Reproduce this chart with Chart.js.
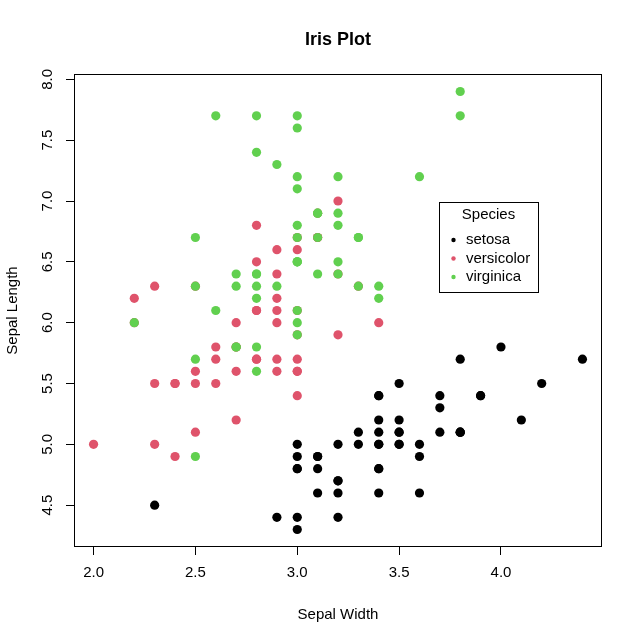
<!DOCTYPE html>
<html>
<head>
<meta charset="utf-8">
<script src="https://cdn.jsdelivr.net/npm/chart.js@4"></script>
<style>
  html, body { margin: 0; padding: 0; background: #fff; }
  #wrap { width: 640px; height: 640px; }
</style>
</head>
<body>
<div id="wrap"><canvas id="iris"></canvas></div>
<script>
// iris data: sepal width (x) and sepal length (y) per species
const setosaWidth = [3.5,3.0,3.2,3.1,3.6,3.9,3.4,3.4,2.9,3.1,3.7,3.4,3.0,3.0,4.0,4.4,3.9,3.5,3.8,3.8,3.4,3.7,3.6,3.3,3.4,3.0,3.4,3.5,3.4,3.2,3.1,3.4,4.1,4.2,3.1,3.2,3.5,3.6,3.0,3.4,3.5,2.3,3.2,3.5,3.8,3.0,3.8,3.2,3.7,3.3];
const setosaLength = [5.1,4.9,4.7,4.6,5.0,5.4,4.6,5.0,4.4,4.9,5.4,4.8,4.8,4.3,5.8,5.7,5.4,5.1,5.7,5.1,5.4,5.1,4.6,5.1,4.8,5.0,5.0,5.2,5.2,4.7,4.8,5.4,5.2,5.5,4.9,5.0,5.5,4.9,4.4,5.1,5.0,4.5,4.4,5.0,5.1,4.8,5.1,4.6,5.3,5.0];
const versicolorWidth = [3.2,3.2,3.1,2.3,2.8,2.8,3.3,2.4,2.9,2.7,2.0,3.0,2.2,2.9,2.9,3.1,3.0,2.7,2.2,2.5,3.2,2.8,2.5,2.8,2.9,3.0,2.8,3.0,2.9,2.6,2.4,2.4,2.7,2.7,3.0,3.4,3.1,2.3,3.0,2.5,2.6,3.0,2.6,2.3,2.7,3.0,2.9,2.9,2.5,2.8];
const versicolorLength = [7.0,6.4,6.9,5.5,6.5,5.7,6.3,4.9,6.6,5.2,5.0,5.9,6.0,6.1,5.6,6.7,5.6,5.8,6.2,5.6,5.9,6.1,6.3,6.1,6.4,6.6,6.8,6.7,6.0,5.7,5.5,5.5,5.8,6.0,5.4,6.0,6.7,6.3,5.6,5.5,5.5,6.1,5.8,5.0,5.6,5.7,5.7,6.2,5.1,5.7];
const virginicaWidth = [3.3,2.7,3.0,2.9,3.0,3.0,2.5,2.9,2.5,3.6,3.2,2.7,3.0,2.5,2.8,3.2,3.0,3.8,2.6,2.2,3.2,2.8,2.8,2.7,3.3,3.2,2.8,3.0,2.8,3.0,2.8,3.8,2.8,2.8,2.6,3.0,3.4,3.1,3.0,3.1,3.1,3.1,2.7,3.2,3.3,3.0,2.5,3.0,3.4,3.0];
const virginicaLength = [6.3,5.8,7.1,6.3,6.5,7.6,4.9,7.3,6.7,7.2,6.5,6.4,6.8,5.7,5.8,6.4,6.5,7.7,7.7,6.0,6.9,5.6,7.7,6.3,6.7,7.2,6.2,6.1,6.4,7.2,7.4,7.9,6.4,6.3,6.1,7.7,6.3,6.4,6.0,6.9,6.7,6.9,5.8,6.8,6.7,6.7,6.3,6.5,6.2,5.9];

const speciesNames = ['setosa', 'versicolor', 'virginica'];
const speciesColors = ['#000000', '#DF536B', '#61D04F'];
const xTicks = [2.0, 2.5, 3.0, 3.5, 4.0];
const yTicks = [4.5, 5.0, 5.5, 6.0, 6.5, 7.0, 7.5, 8.0];

const FONT = 'Arial, "Liberation Sans", sans-serif';

const toPoints = (xs, ys) => xs.map((x, i) => ({ x: x, y: ys[i] }));

// R style extras: title, rotated y labels, box and inset legend
const rStyle = {
    id: 'rStyle',
    afterDraw(chart) {
        const ctx = chart.ctx;
        const area = chart.chartArea;
        const yScale = chart.scales.y;
        ctx.save();

        // box round the plot
        ctx.strokeStyle = '#000';
        ctx.lineWidth = 1;
        ctx.strokeRect(area.left + 0.5, area.top + 0.5, area.right - area.left - 1, area.bottom - area.top - 1);

        // title
        ctx.fillStyle = '#000';
        ctx.font = 'bold 18px ' + FONT;
        ctx.textAlign = 'center';
        ctx.textBaseline = 'alphabetic';
        ctx.fillText('Iris Plot', (area.left + area.right) / 2, 45);

        // y tick labels, turned like R does
        ctx.font = '15px ' + FONT;
        yTicks.forEach(v => {
            const py = yScale.getPixelForValue(v);
            ctx.save();
            ctx.translate(52, py);
            ctx.rotate(-Math.PI / 2);
            ctx.textAlign = 'center';
            ctx.textBaseline = 'alphabetic';
            ctx.fillText(v.toFixed(1), 0, 0);
            ctx.restore();
        });

        // legend
        const lx = 439, ly = 202, lw = 99, lh = 90;
        ctx.fillStyle = '#fff';
        ctx.fillRect(lx, ly, lw, lh);
        ctx.strokeStyle = '#000';
        ctx.strokeRect(lx + 0.5, ly + 0.5, lw, lh);
        ctx.fillStyle = '#000';
        ctx.textAlign = 'center';
        ctx.textBaseline = 'middle';
        ctx.fillText('Species', lx + lw / 2, 215);
        ctx.textAlign = 'left';
        speciesNames.forEach((name, i) => {
            const ry = 240 + i * 18.5;
            ctx.fillStyle = speciesColors[i];
            ctx.beginPath();
            ctx.arc(453.5, ry, 2.2, 0, Math.PI * 2);
            ctx.fill();
            ctx.fillStyle = '#000';
            ctx.fillText(name, 466, ry);
        });

        ctx.restore();
    }
};

const datasets = [
    { label: 'setosa', data: toPoints(setosaWidth, setosaLength), order: 3 },
    { label: 'versicolor', data: toPoints(versicolorWidth, versicolorLength), order: 2 },
    { label: 'virginica', data: toPoints(virginicaWidth, virginicaLength), order: 1 }
].map((d, i) => Object.assign(d, {
    backgroundColor: speciesColors[i],
    borderColor: speciesColors[i],
    borderWidth: 0,
    pointRadius: 4.6,
    pointHoverRadius: 4.6
}));

const config = {
    type: 'scatter',
    data: { datasets: datasets },
    options: {
        responsive: true,
        maintainAspectRatio: false,
        animation: false,
        events: [],
        layout: { padding: { top: 74, right: 38, left: 0, bottom: 0 } },
        plugins: {
            legend: { display: false },
            tooltip: { enabled: false },
            title: { display: false }
        },
        scales: {
            x: {
                type: 'linear',
                min: 1.904,
                max: 4.496,
                afterBuildTicks: axis => { axis.ticks = xTicks.map(v => ({ value: v })); },
                afterFit: axis => { axis.height = 93; },
                grid: { drawOnChartArea: false, drawTicks: true, tickLength: 8, color: '#000', tickColor: '#000' },
                border: { display: false },
                ticks: {
                    color: '#000',
                    font: { family: FONT, size: 15 },
                    padding: 9,
                    maxRotation: 0,
                    callback: v => v.toFixed(1)
                },
                title: {
                    display: true,
                    text: 'Sepal Width',
                    color: '#000',
                    font: { family: FONT, size: 15 },
                    padding: { top: 0, bottom: 16 }
                }
            },
            y: {
                type: 'linear',
                min: 4.156,
                max: 8.044,
                afterBuildTicks: axis => { axis.ticks = yTicks.map(v => ({ value: v })); },
                afterFit: axis => { axis.width = 74; },
                grid: { drawOnChartArea: false, drawTicks: true, tickLength: 8, color: '#000', tickColor: '#000' },
                border: { display: false },
                ticks: { display: false },
                title: {
                    display: true,
                    text: 'Sepal Length',
                    color: '#000',
                    font: { family: FONT, size: 15 },
                    padding: { top: 4, bottom: 0 }
                }
            }
        }
    },
    plugins: [rStyle]
};

new Chart(document.getElementById('iris').getContext('2d'), config);
</script>
</body>
</html>
